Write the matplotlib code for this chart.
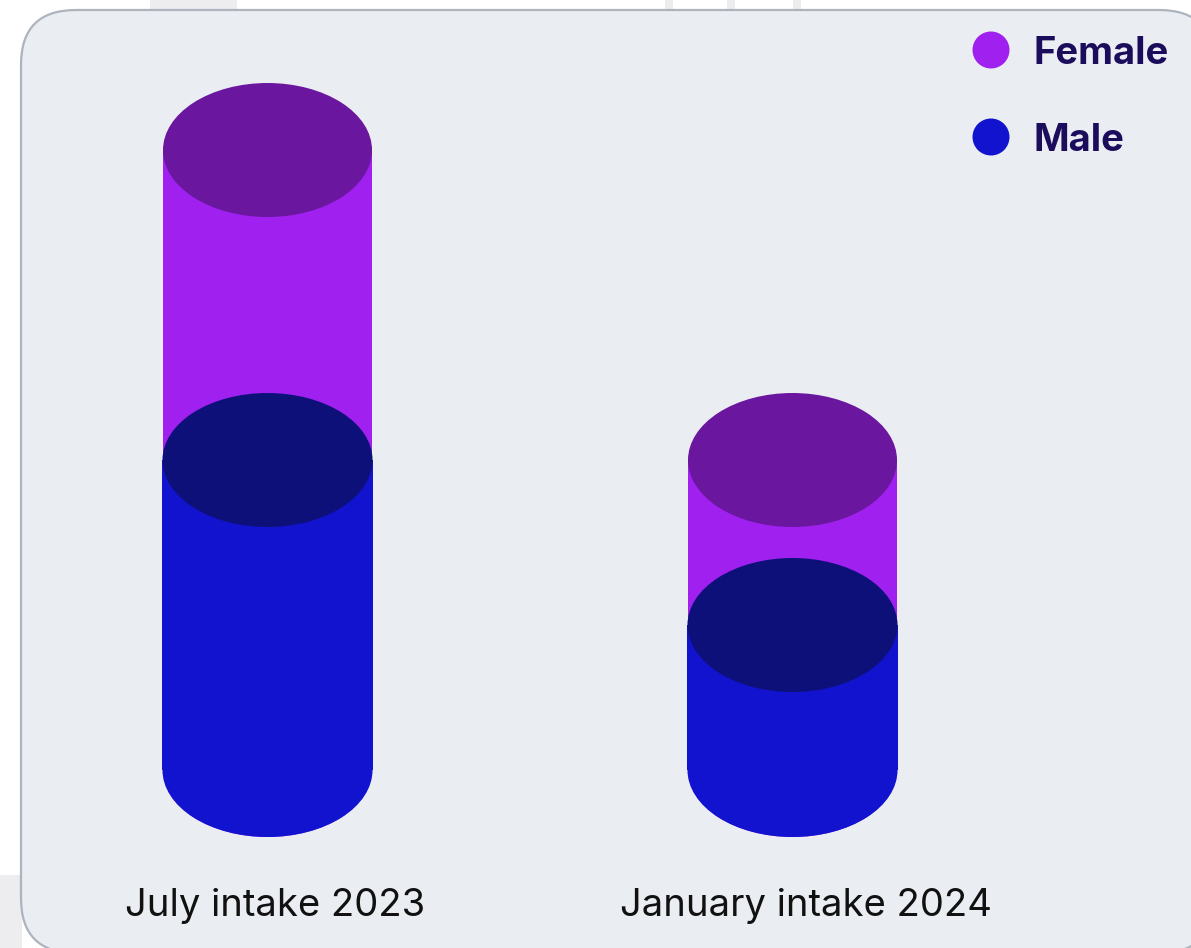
import matplotlib
matplotlib.use("Agg")
import matplotlib.pyplot as plt
from matplotlib.patches import Ellipse, Rectangle, FancyBboxPatch

categories = ["July intake 2023", "January intake 2024"]
series = ["Female", "Male"]
male = [62, 29]
female = [62, 33]

side_colors = {"Female": "#a020ef", "Male": "#1213cf"}
top_colors = {"Female": "#6b169f", "Male": "#0e107a"}
text_dark = "#1b0c5c"

W, H = 1191, 948
fig = plt.figure(figsize=(W / 100, H / 100), dpi=100)
fig.patch.set_facecolor("white")

# faint background pieces outside the card
for (x0, y0, w, h) in [(150, 0, 87, 11), (665, 0, 8, 11), (727, 0, 8, 11), (793, 0, 8, 11), (0, 875, 22, 73)]:
    fig.patches.append(Rectangle((x0 / W, 1 - (y0 + h) / H), w / W, h / H,
                                 transform=fig.transFigure, facecolor="#ededf0",
                                 edgecolor="none", zorder=0))

# rounded card
card = FancyBboxPatch((21 / W, 1 - 953 / H), (1214 - 21) / W, (953 - 10) / H,
                      boxstyle="round,pad=0,rounding_size=0.046",
                      transform=fig.transFigure, facecolor="#eaeef2",
                      edgecolor="#aeb4bd", linewidth=1.6, zorder=1,
                      mutation_aspect=W / H)
fig.patches.append(card)

ax = fig.add_axes([0, 0, 1, 1])
ax.set_zorder(3)
ax.set_facecolor("none")
px_per_x = 525.0
px_per_y = 5.0
x0_px = 267.5
y0_px = 948 - 770.0
ax.set_xlim(-x0_px / px_per_x, (W - x0_px) / px_per_x)
ax.set_ylim(-y0_px / px_per_y, (H - y0_px) / px_per_y)
ax.axis("off")

cw = 209 / px_per_x
eh = 134 / px_per_y
label_shift_px = [7.5, 13]


def cylinder(x, bottom, top, name, z, width=cw):
    side = side_colors[name]
    ax.add_patch(Ellipse((x, bottom), width, eh, facecolor=side, edgecolor="none", zorder=z))
    ax.add_patch(Rectangle((x - width / 2, bottom), width, top - bottom,
                           facecolor=side, edgecolor="none", zorder=z))
    ax.add_patch(Ellipse((x, top), width, eh, facecolor=top_colors[name],
                         edgecolor="none", zorder=z + 0.5))


for i, cat in enumerate(categories):
    total = male[i] + female[i]
    cylinder(i, 0, total, "Female", 2)
    cylinder(i, 0, male[i], "Male", 4, width=cw * 1.005)
    ax.text(i + label_shift_px[i] / px_per_x, -136 / px_per_y, cat, ha="center", va="center",
            fontsize=27.5, family="Inter", color="#111111", zorder=6)

# legend
for j, name in enumerate(series):
    cy = 1 - (50 + 87 * j) / H
    fig.patches.append(Ellipse((991 / W, cy), 37 / W, 37 / H, transform=fig.transFigure,
                               facecolor=side_colors[name], edgecolor="none", zorder=5))
    fig.text(1034 / W, cy, name, ha="left", va="center_baseline", fontsize=27.5,
             fontweight="bold", family="Inter", color=text_dark, zorder=6)

fig.savefig("out.png", dpi=100, facecolor="white")
